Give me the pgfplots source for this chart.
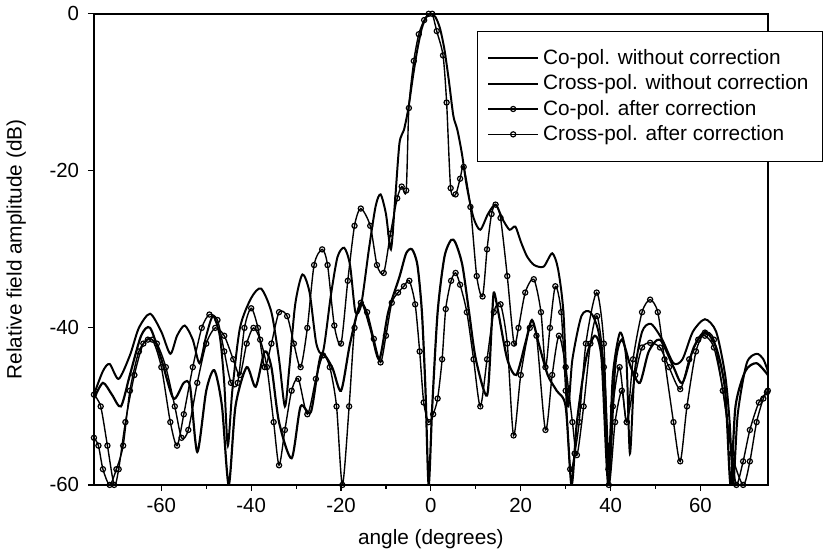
\documentclass[border=0pt]{standalone}
\usepackage{pgfplots}
\pgfplotsset{compat=1.18}
\usepackage{fontspec}
\setmainfont{Liberation Sans}

\begin{document}
\begin{tikzpicture}
\begin{axis}[
  scale only axis,
  width=339bp, height=237bp,
  xmin=-75, xmax=75, ymin=-60, ymax=0,
  xtick={-60,-40,-20,0,20,40,60},
  ytick={-60,-40,-20,0},
  minor x tick num=1,
  xtick pos=bottom, ytick pos=left,
  tick align=outside,
  major tick length=3bp, minor tick length=2bp,
  tick style={black, line width=0.6bp},
  axis line style={line width=0.8bp},
  /pgf/number format/assume math mode=true,
  tick label style={font=\fontsize{10.3}{12}\selectfont},
  yticklabel style={xshift=-1bp},
  label style={font=\fontsize{10.5}{12}\selectfont},
  xlabel={angle (degrees)},
  ylabel={Relative field amplitude (dB)},
  xlabel style={yshift=-2bp},
  ylabel style={yshift=5bp},
  clip=true,
  legend style={at={(0.568,0.964)}, anchor=north west, draw=black,
    line width=0.6bp, font=\fontsize{10.5}{12}\selectfont,
    inner xsep=5bp, inner ysep=7bp, row sep=-0.3bp,
    /tikz/every even column/.append style={column sep=3bp}},
  legend cell align=left,
  legend image code/.code={\draw[#1] (0bp,0bp) -- (25bp,0bp); \draw[#1, only marks] plot coordinates {(12.5bp,0bp)};},
  every axis plot/.append style={smooth, tension=0.45, black},
]
% Co-pol. without correction
\addplot[line width=1bp, mark=none] coordinates {
(-75,-48.5) (-73,-45.5) (-71.5,-44.6) (-69.5,-46.5) (-67,-43.5) (-65,-40) (-62.5,-38.2) (-60,-40.5) (-58,-43.3) (-56.5,-41) (-54.8,-39.7) (-53,-41.5) (-51.5,-44.5) (-50,-41) (-48.5,-38.5) (-47,-41) (-46,-47) (-45.2,-55) (-44.2,-48) (-42.5,-40) (-40,-36.2) (-37.8,-35) (-35.5,-38) (-33.8,-44) (-32.5,-50) (-31.5,-45) (-30.2,-37) (-28.6,-33.2) (-27,-35.5) (-25.5,-42) (-24,-43) (-22.3,-36) (-20.8,-31) (-19.3,-29.8) (-18,-32) (-16.8,-38) (-15.5,-37) (-13.8,-30) (-12.3,-24.5) (-11.2,-23) (-10,-25.5) (-8.9,-30) (-8,-24) (-7,-16.5) (-6,-14.8) (-5,-12) (-4,-8) (-3,-4.5) (-2,-1.8) (-1,-0.4) (0,0) (1,-0.4) (2,-1.8) (3,-4.5) (4,-8.5) (5,-13) (5.9,-14.8) (6.9,-17.8) (8,-22) (9.5,-26) (11,-27.5) (12.7,-25.5) (14.4,-24.3) (16,-26.2) (17.5,-27.5) (18.8,-27.1) (20,-29) (21.4,-30.9) (23,-32) (25.1,-32.2) (27,-30.5) (28.3,-32.5) (29.5,-38) (30.5,-50) (31.5,-44) (33.5,-38.5) (35.5,-38) (37.3,-40.5) (38.7,-47) (39.6,-57) (40.5,-46) (42.1,-40.6) (43.5,-44) (44.3,-56) (45.3,-46) (47,-40.5) (49,-39.5) (51.5,-41.5) (54,-44.5) (56,-44) (58.3,-40.5) (61,-38.9) (63.5,-40.5) (65.5,-46) (66.5,-52) (67.3,-60) (68.3,-51) (70.3,-44.5) (72.5,-43.3) (74,-44) (75,-45.5)
};
\addlegendentry{Co-pol. without correction}
% Cross-pol. without correction
\addplot[line width=1.1bp, mark=none] coordinates {
(-75,-49) (-73,-47) (-71,-48.5) (-69,-50) (-67,-46) (-64.5,-41) (-62.5,-40) (-60,-44) (-57.3,-49) (-55,-47) (-53.6,-47.5) (-52,-55.8) (-50,-48) (-48.2,-45.4) (-46.5,-50) (-45,-60) (-43.5,-50) (-41,-45) (-39,-47.5) (-37,-43) (-35.5,-45) (-33.8,-52) (-31,-56.6) (-29,-50) (-26.7,-50.7) (-24.5,-43.5) (-22,-45) (-20,-48) (-18,-42) (-15.6,-36.8) (-13.5,-40) (-11.5,-44) (-9.5,-38) (-7,-33.5) (-5.5,-30.5) (-4.2,-30) (-3,-32) (-2,-38) (-1.2,-48) (-0.5,-60) (0.3,-50) (1.5,-38) (3,-31) (4.5,-28.8) (5.5,-29.2) (7,-32) (8.5,-38) (10,-44) (12.5,-48.6) (13.5,-40) (14,-35.5) (15,-38) (17,-44) (19,-46) (21,-42) (22.5,-39) (24,-42) (26,-46) (28,-48) (30,-50) (31.3,-60) (32.5,-52) (34.5,-44) (36.5,-41) (38,-44) (39.5,-60) (41,-45) (42.5,-41.5) (44.5,-45) (46.5,-47) (48.5,-43) (51,-41.5) (54,-45) (56,-47) (58.5,-42.5) (61,-40.5) (63.5,-42.5) (65.5,-48) (66.7,-60) (67.8,-50) (70,-45.5) (72.5,-44.5) (75,-46)
};
\addlegendentry{Cross-pol. without correction}
% Co-pol. after correction
\addplot[line width=0.7bp, mark=o, mark size=1.3bp, mark options={fill=white, line width=0.6bp}] coordinates {
(-75,-48.5) (-73.5,-50) (-72,-55) (-70.5,-60) (-69.5,-58) (-68,-52) (-66,-46) (-64,-42) (-62,-41.5) (-60,-45) (-58,-52) (-56.5,-55) (-55,-51) (-53,-45) (-51,-40) (-49.3,-38.3) (-47.5,-39) (-46,-43) (-44.5,-47) (-43,-47) (-41.5,-40) (-40,-37.5) (-38.5,-40) (-37,-45) (-35.5,-42) (-33.8,-38) (-32,-38.5) (-30.5,-42) (-29,-45) (-27.5,-40) (-26,-32) (-24.2,-30) (-23,-32) (-21.5,-39.7) (-20,-42) (-18.5,-34) (-17,-27) (-15.6,-24.8) (-13.5,-27) (-12,-32) (-10.5,-33) (-9,-28) (-7.5,-23.5) (-6.5,-22) (-5.5,-22.5) (-4.9,-12) (-3.8,-6) (-2.7,-2.6) (-1.5,-0.8) (-0.5,0) (0.3,0) (1.3,-2.2) (2.7,-5.3) (3.5,-11.3) (4.4,-22.2) (5.5,-23) (6.5,-21) (7.3,-19.5) (8.8,-24.6) (10.2,-33.4) (11.5,-36) (12.5,-30) (13.5,-25.5) (14.4,-24.3) (15.5,-26) (17,-33.4) (18.5,-42) (19.5,-40) (21,-35.5) (22.9,-33.8) (24.5,-38) (25.5,-45) (26.5,-40) (27.7,-34.7) (29,-38) (30,-48) (31,-58) (32,-56) (33,-52) (34.5,-42) (36.9,-35.5) (38.5,-42) (39.5,-58) (40.5,-50) (42,-45) (43.6,-52) (45,-44) (47,-38) (48.8,-36.4) (50.5,-38) (52,-44) (54,-52) (55.5,-57) (57,-50) (59,-43) (61,-40.6) (63,-41.5) (65,-48) (67,-56) (69.5,-60) (71,-57) (72.5,-52) (74,-49) (75,-48)
};
\addlegendentry{Co-pol. after correction}
% Cross-pol. after correction
\addplot[line width=0.7bp, mark=o, mark size=1.3bp, mark options={fill=white, line width=0.6bp}] coordinates {
(-75,-54) (-74,-55) (-73,-58) (-71.5,-60) (-70,-58) (-68.5,-55) (-67,-48) (-65,-43) (-63,-41.5) (-61,-42) (-59,-45) (-57,-50) (-55.5,-54) (-54,-53) (-52,-47) (-50,-42) (-48,-40) (-46,-41) (-44,-44) (-42.5,-46) (-41,-42) (-39.5,-40) (-38,-41.5) (-36.5,-45) (-35,-52) (-33.8,-57.5) (-32.5,-53) (-31,-48) (-29.5,-46.5) (-27.5,-51) (-25.6,-46.5) (-24,-43.5) (-22.5,-45) (-21,-50) (-19.7,-60) (-18.2,-50) (-17,-40) (-15.6,-36.8) (-14.2,-38) (-12.7,-41.4) (-11.2,-44.4) (-10,-41) (-8.7,-36.8) (-7.3,-35.5) (-6,-34.7) (-4.8,-34) (-3.5,-37) (-2.5,-43) (-1.6,-49.5) (-0.5,-52) (0.5,-51) (1.5,-49) (2.5,-44) (3.3,-37.6) (4.5,-34) (5.5,-33) (6.5,-34.5) (8,-38) (9.5,-44) (11,-50) (12.5,-44) (14,-38) (15.5,-37) (17,-42) (18.4,-53.7) (20,-46) (22,-40) (23.5,-41) (25.5,-53) (27,-46) (28.5,-41) (30,-45) (31.5,-52) (32.5,-56.2) (34,-50) (35.5,-42) (37,-38.5) (38.5,-45) (39.6,-60) (41,-52) (42.5,-48) (43.6,-52) (45.5,-46) (47,-42.5) (48.8,-41.9) (51,-42.5) (53,-45) (55.5,-47.8) (57.5,-44) (59.5,-41.5) (61,-41) (63,-42.5) (65,-48) (67,-56) (68,-60) (69.5,-57) (71,-53) (73,-49.5) (74.8,-48.2)
};
\addlegendentry{Cross-pol. after correction}
\end{axis}
\end{tikzpicture}
\end{document}
